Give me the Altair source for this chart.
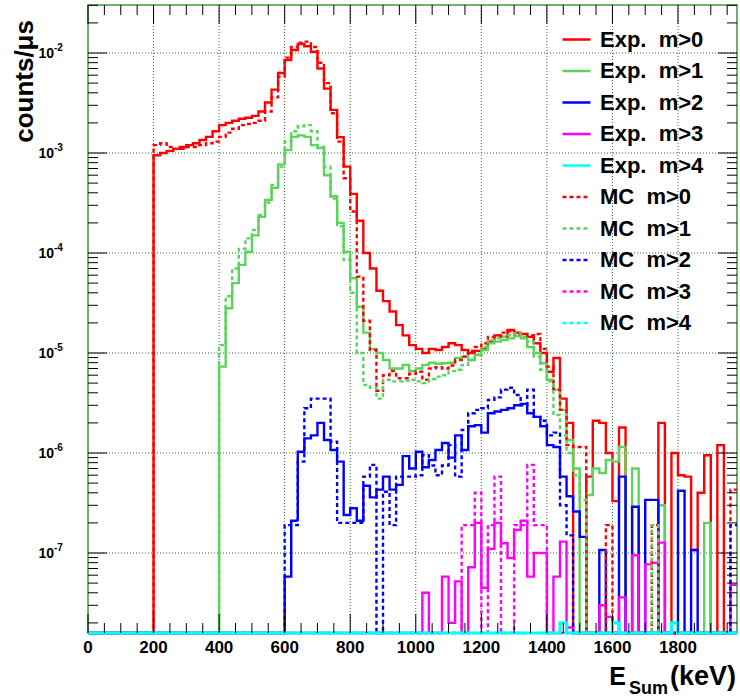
import altair as alt
import pandas as pd

# ---------------- data (bin width 20 keV, bins 0..1980 keV) ----------------
BIN = 20
NBINS = 99
Y_MIN, Y_MAX = 10 ** -7.8, 10 ** -1.52

red_exp = [0] * 10 + [
    9.5e-4, 1.0e-3, 1.05e-3, 1.1e-3, 1.15e-3, 1.2e-3, 1.25e-3, 1.35e-3, 1.45e-3, 1.65e-3,
    1.9e-3, 2.0e-3, 2.1e-3, 2.2e-3, 2.25e-3, 2.35e-3, 2.6e-3, 3.2e-3, 4.3e-3, 6.3e-3,
    8.5e-3, 1.07e-2, 1.23e-2, 1.17e-2, 1.03e-2, 7.0e-3, 4.4e-3, 2.7e-3, 1.44e-3, 7.3e-4,
    3.9e-4, 2.1e-4, 1.0e-4, 7.0e-5, 4.2e-5, 3.3e-5, 2.6e-5, 1.9e-5, 1.5e-5, 1.2e-5,
    1.1e-5, 1.0e-5, 1.1e-5, 1.07e-5, 1.15e-5, 1.25e-5, 1.2e-5, 1.07e-5, 1.0e-5, 1.05e-5,
    1.1e-5, 1.3e-5, 1.5e-5, 1.45e-5, 1.7e-5, 1.6e-5, 1.55e-5, 1.45e-5, 1.25e-5, 1.0e-5,
    6.5e-6, 8.9e-6, 3.5e-6, 2.0e-6, 0, 0, 5.8e-7, 2.1e-6, 2.0e-6, 1.0e-6,
    3.3e-7, 1.8e-6, 0, 0, 0, 0, 0, 2.0e-6, 0, 1.0e-6,
    6.0e-7, 5.8e-7, 1.07e-7, 4.0e-7, 9.5e-7, 0, 1.2e-6, 0, 0]

green_exp = [0] * 20 + [
    7.3e-6, 2.8e-5, 5.0e-5, 7.6e-5, 1.03e-4, 1.5e-4, 2.3e-4, 3.4e-4, 4.5e-4, 7.7e-4,
    1.07e-3, 1.45e-3, 1.5e-3, 1.45e-3, 1.2e-3, 1.12e-3, 6.0e-4, 3.7e-4, 2.0e-4, 1.03e-4,
    5.6e-5, 2.9e-5, 1.6e-5, 1.1e-5, 1.0e-5, 8.5e-6, 7.0e-6, 7.0e-6, 7.6e-6, 6.6e-6,
    7.0e-6, 7.6e-6, 8.0e-6, 7.8e-6, 7.9e-6, 8.0e-6, 8.9e-6, 9.2e-6, 8.5e-6, 9.6e-6,
    1.07e-5, 1.25e-5, 1.3e-5, 1.35e-5, 1.4e-5, 1.48e-5, 1.4e-5, 1.15e-5, 1.0e-5, 7.9e-6,
    5.4e-6, 4.3e-6, 2.7e-6, 1.35e-6, 7.0e-7, 0, 3.8e-7, 7.0e-7, 6.3e-7, 8.5e-7,
    8.2e-7, 1.15e-6, 0, 7.0e-7, 0, 0, 0, 3.0e-7, 0, 0,
    0, 0, 0, 0, 2.0e-7, 0, 0, 0, 0]

blue_exp = [0] * 30 + [
    5.8e-8, 2.1e-7, 1.03e-6, 1.4e-6, 1.5e-6, 2.0e-6, 1.35e-6, 1.07e-6, 8.2e-7, 2.4e-7,
    2.8e-7, 2.1e-7, 4.7e-7, 3.6e-7, 4.3e-7, 5.8e-7, 4.3e-7, 4.8e-7, 9.3e-7, 7.0e-7,
    1.03e-6, 7.2e-7, 8.5e-7, 1.07e-6, 1.26e-6, 9.0e-7, 1.5e-6, 1.07e-6, 1.85e-6, 1.9e-6,
    1.6e-6, 2.5e-6, 2.6e-6, 2.7e-6, 2.8e-6, 3.0e-6, 3.1e-6, 2.5e-6, 2.3e-6, 1.85e-6,
    1.2e-6, 1.15e-6, 5.8e-7, 3.7e-7, 2.6e-7, 1.45e-7, 0, 0, 1.07e-7, 0,
    0, 5.8e-7, 0, 2.9e-7, 0, 3.4e-7, 3.4e-7, 0, 0, 0,
    4.2e-7, 0, 1.07e-7, 0, 0, 0, 0, 0, 0]

magenta_exp = [0] * 51 + [
    4e-8, 0, 0, 5.8e-8, 2e-8, 5.2e-8, 0, 7.2e-8, 2e-7,
    4.5e-8, 1.1e-7, 2e-7, 1.25e-7, 8.9e-8, 1.7e-7, 2.1e-7, 5.8e-8, 1e-7, 1e-7,
    0, 5.8e-8, 1.3e-7, 1.8e-8, 0, 0, 0, 0, 3e-8, 2.3e-8,
    0, 3.6e-8, 0, 9.5e-8, 0, 7.7e-8, 8e-8, 1.27e-7, 0, 0,
    0, 0, 0, 0, 0, 0, 0, 0, 4.8e-8]

cyan_exp = [0] * 72 + [2e-8] + [0] * 7 + [2e-8] + [0] * 8 + [2e-8] + [0] * 9

red_mc = [0] * 10 + [
    1.2e-3, 1.25e-3, 1.15e-3, 1.1e-3, 1.1e-3, 1.15e-3, 1.15e-3, 1.2e-3, 1.25e-3, 1.3e-3,
    1.45e-3, 1.6e-3, 1.75e-3, 1.9e-3, 1.95e-3, 2.0e-3, 2.1e-3, 2.6e-3, 3.6e-3, 5.8e-3,
    9.0e-3, 1.15e-2, 1.27e-2, 1.3e-2, 1.15e-2, 8.0e-3, 5.0e-3, 2.5e-3, 1.3e-3, 5.6e-4,
    2.6e-4, 5.8e-5, 2.1e-5, 1.07e-5, 4.2e-6, 6.0e-6, 6.6e-6, 5.6e-6, 5.6e-6, 6.2e-6,
    6.5e-6, 5.4e-6, 7.0e-6, 7.2e-6, 7.0e-6, 7.5e-6, 8.5e-6, 9.2e-6, 1.05e-5, 1.15e-5,
    1.25e-5, 1.45e-5, 1.5e-5, 1.6e-5, 1.65e-5, 1.55e-5, 1.55e-5, 1.5e-5, 1.55e-5, 1.1e-5,
    7.3e-6, 4.3e-6, 2.7e-6, 1.2e-6, 1.15e-6, 1.15e-6, 0, 0, 0, 1.9e-7,
    0, 0, 0, 0, 0, 0, 1.9e-7, 0, 0, 0,
    0, 0, 0, 0, 0, 0, 0, 0, 4.3e-7]

green_mc = [0] * 20 + [
    1.2e-5, 3.7e-5, 7.0e-5, 1.1e-4, 1.4e-4, 1.7e-4, 2.4e-4, 3.2e-4, 4.8e-4, 7.3e-4,
    1.3e-3, 1.65e-3, 1.85e-3, 1.9e-3, 1.65e-3, 1.15e-3, 7.3e-4, 3.5e-4, 1.85e-4, 8.5e-5,
    4.0e-5, 1.0e-5, 4.8e-6, 4.5e-6, 3.5e-6, 5.4e-6, 5.2e-6, 5.2e-6, 5.3e-6, 5.4e-6,
    5.2e-6, 5.0e-6, 5.5e-6, 5.8e-6, 6.0e-6, 6.6e-6, 6.8e-6, 7.6e-6, 8.5e-6, 9.5e-6,
    1.15e-5, 1.35e-5, 1.4e-5, 1.45e-5, 1.5e-5, 1.58e-5, 1.45e-5, 1.3e-5, 9.2e-6, 6.8e-6,
    5.2e-6, 2.4e-6, 1.5e-6, 1.0e-6, 6.0e-7, 3.4e-7, 0, 0, 0, 0,
    0, 0, 0, 0, 0, 0, 1.9e-7, 0, 0, 0,
    0, 0, 0, 0, 0, 0, 0, 0, 0]

blue_mc = [0] * 30 + [
    1.9e-7, 1.9e-7, 8.2e-7, 2.8e-6, 3.5e-6, 3.5e-6, 3.5e-6, 1.3e-6, 2.0e-7, 2.0e-7,
    2.0e-7, 2.0e-7, 5.8e-7, 7.6e-7, 0, 4.1e-7, 1.9e-7, 5.8e-7, 5.8e-7, 5.8e-7,
    6.0e-7, 9.5e-7, 7.5e-7, 6.0e-7, 7.5e-7, 1.2e-6, 5.8e-7, 1.7e-6, 2.5e-6, 2.7e-6,
    2.8e-6, 3.4e-6, 3.6e-6, 4.3e-6, 4.5e-6, 3.8e-6, 3.0e-6, 4.3e-6, 2.3e-6, 2.1e-6,
    1.5e-6, 1.6e-6, 3.0e-7, 1.5e-7, 0, 0, 0, 0, 0, 0,
    0, 0, 0, 0, 0, 0, 0, 0, 0, 0,
    0, 0, 0, 0, 0, 0, 0, 0, 1.9e-7]

magenta_mc = [0] * 57 + [
    1.9e-7, 1.9e-7, 4e-7,
    0, 1.9e-7, 5.8e-7, 0, 0, 1.9e-7, 1.9e-7, 7.6e-7, 1.9e-7, 1.9e-7] + [0] * 29

cyan_mc = [0] * NBINS

series_names = [
    "Exp.\u00a0\u00a0m>0", "Exp.\u00a0\u00a0m>1", "Exp.\u00a0\u00a0m>2",
    "Exp.\u00a0\u00a0m>3", "Exp.\u00a0\u00a0m>4",
    "MC\u00a0\u00a0m>0", "MC\u00a0\u00a0m>1", "MC\u00a0\u00a0m>2",
    "MC\u00a0\u00a0m>3", "MC\u00a0\u00a0m>4",
]
series_values = [red_exp, green_exp, blue_exp, magenta_exp, cyan_exp,
                 red_mc, green_mc, blue_mc, magenta_mc, cyan_mc]
series_colors = ["#ff0000", "#5ad45a", "#0000ff", "#ff00ff", "#00ffff"] * 2
series_dash = [[1, 0]] * 5 + [[4, 3]] * 5

x_labels = list(range(0, 1801, 200))
decades = [-2, -3, -4, -5, -6, -7]

# ---------------- build step-histogram table ----------------
rows = []
for name, vals in zip(series_names, series_values):
    assert len(vals) == NBINS, (name, len(vals))
    for i, v in enumerate(vals):
        vv = v if v > 0 else Y_MIN
        rows.append({"series": name, "x": i * BIN, "y": vv, "k": 2 * i})
        rows.append({"series": name, "x": (i + 1) * BIN, "y": vv, "k": 2 * i + 1})
df = pd.DataFrame(rows)
cyan_name = series_names[4]
df_main = df[df.series != cyan_name]
df_top = df[df.series == cyan_name]

W, H = 649, 628
FONT = "Liberation Sans"
GRID = "#2f6a2f"

xs = alt.Scale(domain=[0, NBINS * BIN], nice=False, zero=False)
ys = alt.Scale(type="log", domain=[Y_MIN, Y_MAX], nice=False)
cs = alt.Scale(domain=series_names, range=series_colors)
ds = alt.Scale(domain=series_names, range=series_dash)

legend = alt.Legend(
    orient="none", legendX=473, legendY=19, title=None,
    symbolType="stroke", symbolSize=784, symbolStrokeWidth=2.5,
    labelFont=FONT, labelFontSize=22, labelFontWeight="bold", labelColor="black",
    labelOffset=8, rowPadding=4.5, padding=0, labelLimit=400,
)


def hist_layer(data, width):
    return alt.Chart(data).mark_line(strokeWidth=width, clip=False).encode(
        x=alt.X("x:Q", scale=xs, axis=None),
        y=alt.Y("y:Q", scale=ys, axis=None),
        color=alt.Color("series:N", scale=cs, legend=legend),
        strokeDash=alt.StrokeDash("series:N", scale=ds, legend=legend),
        order=alt.Order("k:Q"),
    )


# ---------------- grid (dotted) ----------------
grid_x = alt.Chart(pd.DataFrame({"v": x_labels[1:]})).mark_rule(
    color=GRID, strokeDash=[1, 2], strokeWidth=1).encode(
    x=alt.X("v:Q", scale=xs, axis=None), y=alt.value(0), y2=alt.value(H))
grid_y = alt.Chart(pd.DataFrame({"v": [10.0 ** d for d in decades]})).mark_rule(
    color=GRID, strokeDash=[1, 2], strokeWidth=1).encode(
    y=alt.Y("v:Q", scale=ys, axis=None), x=alt.value(0), x2=alt.value(W))

# ---------------- ticks (inside the frame, ROOT style) ----------------
x_major = list(range(0, 1801, 200))
x_minor = [v for v in range(50, NBINS * BIN, 50) if v % 200]
y_major = [10.0 ** d for d in range(-7, -1)]
y_minor = [k * 10.0 ** d for d in range(-8, -1) for k in range(2, 10)
           if Y_MIN <= k * 10.0 ** d <= Y_MAX]


def xticks(vals, length, top):
    c = alt.Chart(pd.DataFrame({"v": vals})).mark_rule(color="black", strokeWidth=1)
    if top:
        return c.encode(x=alt.X("v:Q", scale=xs, axis=None),
                        y=alt.value(0), y2=alt.value(length))
    return c.encode(x=alt.X("v:Q", scale=xs, axis=None),
                    y=alt.value(H), y2=alt.value(H - length))


def yticks(vals, length, right):
    c = alt.Chart(pd.DataFrame({"v": vals})).mark_rule(color="black", strokeWidth=1)
    if right:
        return c.encode(y=alt.Y("v:Q", scale=ys, axis=None),
                        x=alt.value(W), x2=alt.value(W - length))
    return c.encode(y=alt.Y("v:Q", scale=ys, axis=None),
                    x=alt.value(0), x2=alt.value(length))


ticks = [xticks(x_major, 19, False), xticks(x_minor, 10, False),
         xticks(x_major, 19, True), xticks(x_minor, 10, True),
         yticks(y_major, 19, False), yticks(y_minor, 10, False),
         yticks(y_major, 19, True), yticks(y_minor, 10, True)]

# ---------------- tick labels ----------------
xlab = alt.Chart(pd.DataFrame({"v": x_labels, "t": [str(v) for v in x_labels]})).mark_text(
    align="center", baseline="top", font=FONT, fontSize=17, fontWeight="bold",
    color="black").encode(
    x=alt.X("v:Q", scale=xs, axis=None), y=alt.value(H + 7), text="t:N")

dec_df = pd.DataFrame({"v": [10.0 ** d for d in decades],
                       "base": ["10"] * len(decades),
                       "expo": [str(d) for d in decades]})
ylab_base = alt.Chart(dec_df).mark_text(
    align="right", baseline="middle", font=FONT, fontSize=14, fontWeight="bold",
    color="black", dy=1).encode(
    x=alt.value(-34), y=alt.Y("v:Q", scale=ys, axis=None), text="base:N")
ylab_exp = alt.Chart(dec_df).mark_text(
    align="left", baseline="middle", font=FONT, fontSize=10, fontWeight="bold",
    color="black", dy=-5).encode(
    x=alt.value(-34), y=alt.Y("v:Q", scale=ys, axis=None), text="expo:N")


# ---------------- axis titles ----------------
def label(text, x, y, size, align="right", angle=0):
    return alt.Chart(pd.DataFrame({"t": [text]})).mark_text(
        align=align, baseline="alphabetic", font=FONT, fontSize=size,
        fontWeight="bold", color="black", angle=angle).encode(
        x=alt.value(x), y=alt.value(y), text="t:N")


titles = [label("E", 538, 680, 25), label("Sum", 580, 689, 18),
          label("(keV)", 648, 680, 27),
          label("counts/\u03bcs", -55, 15, 26, align="right", angle=270)]

chart = alt.layer(
    grid_x, grid_y, hist_layer(df_main, 2.4), hist_layer(df_top, 3.2), *ticks,
    xlab, ylab_base, ylab_exp, *titles
).properties(
    width=W, height=H,
    padding={"left": 88, "top": 5, "right": 3, "bottom": 67},
    autosize=alt.AutoSizeParams(type="none"),
    background="white",
).configure_view(stroke="#3c9c3c", strokeWidth=1.5)

chart.save("out.html", embed_options={"renderer": "svg", "actions": False})
